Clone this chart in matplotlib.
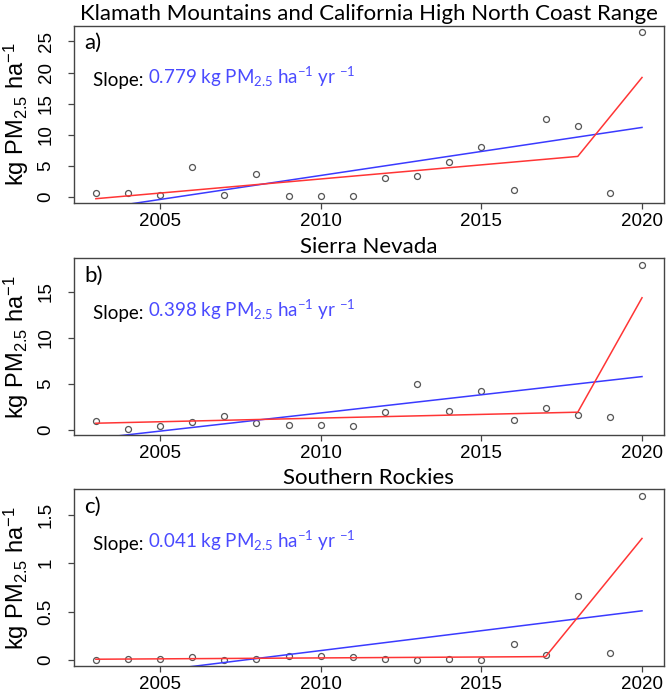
import numpy as np
import matplotlib
matplotlib.use("Agg")
import matplotlib.pyplot as plt

plt.rcParams["mathtext.fontset"] = "custom"
plt.rcParams["mathtext.rm"] = "Lato"
plt.rcParams["mathtext.it"] = "Lato:italic"
plt.rcParams["mathtext.sf"] = "Liberation Sans"

years = np.arange(2003, 2021)

# observed annual values (kg PM2.5 / ha)
klamath = [0.54, 0.60, 0.27, 4.77, 0.20, 3.70, 0.16, 0.16, 0.05, 3.00,
           3.27, 5.63, 8.05, 1.02, 12.55, 11.37, 0.64, 26.5]
sierra = [1.02, 0.11, 0.47, 0.91, 1.49, 0.73, 0.51, 0.54, 0.44, 1.93,
          5.01, 2.03, 4.21, 1.05, 2.43, 1.67, 1.42, 17.98]
rockies = [0.0, 0.007, 0.007, 0.03, 0.0, 0.007, 0.045, 0.038, 0.034, 0.01,
           0.0, 0.014, 0.0, 0.166, 0.055, 0.659, 0.076, 1.697]

# segmented fit knots (red)
seg_x = [[2003, 2018, 2020], [2003, 2018, 2020], [2003, 2017, 2020]]
seg_y = [[-0.32, 6.49, 19.2], [0.73, 1.93, 14.38], [0.007, 0.034, 1.255]]

titles = ["Klamath Mountains and California High North Coast Range",
          "Sierra Nevada", "Southern Rockies"]
panel_tags = ["a)", "b)", "c)"]
slopes = ["0.779", "0.398", "0.041"]
yticks = [[0, 5, 10, 15, 20, 25], [0, 5, 10, 15], [0, 0.5, 1, 1.5]]
ytick_labels = [["0", "5", "10", "15", "20", "25"], ["0", "5", "10", "15"],
                ["0", "0.5", "1", "1.5"]]
xticks = [2005, 2010, 2015, 2020]

fig = plt.figure(figsize=(6.68, 6.97), dpi=100)
left, width = 0.1108, 0.883
bottoms = [0.7088, 0.3752, 0.0438]
height = 0.2545

edge = "#444444"
for i, vals in enumerate([klamath, sierra, rockies]):
    ax = fig.add_axes([left, bottoms[i], width, height])
    vals = np.array(vals)

    # R style axis ranges: data range + 4%
    xr = years.max() - years.min()
    ax.set_xlim(years.min() - 0.04 * xr, years.max() + 0.04 * xr)
    yr = vals.max() - vals.min()
    ax.set_ylim(vals.min() - 0.04 * yr, vals.max() + 0.04 * yr)

    ax.plot(years, vals, "o", mfc="none", mec="#555555", ms=4.3, mew=0.9)

    b, a = np.polyfit(years, vals, 1)
    ax.plot(years, a + b * years, color="#3a3aff", lw=1.1)
    ax.plot(seg_x[i], seg_y[i], color="#ff3535", lw=1.1)

    ax.set_xticks(xticks)
    ax.set_xticklabels([str(x) for x in xticks], fontsize=13.5,
                       family="Liberation Sans")
    ax.set_yticks(yticks[i])
    ax.set_yticklabels(ytick_labels[i], fontsize=13.5, rotation=90,
                       va="center", family="Liberation Sans")
    ax.tick_params(direction="out", length=4, width=0.9, color=edge)
    ax.tick_params(axis="x", pad=3)
    ax.tick_params(axis="y", pad=10)
    for s in ax.spines.values():
        s.set_color(edge)
        s.set_linewidth(1.0)

    ax.set_ylabel(r"kg PM$_{\mathsf{2.5}}$ ha$^{\mathsf{-1}}$", fontsize=17,
                  family="Liberation Sans", labelpad=5)
    ax.set_title(titles[i], fontsize=16, family="Lato", pad=4)

    ax.text(0.017, 0.90, panel_tags[i], transform=ax.transAxes,
            fontsize=16, family="Lato", va="center")
    t1 = ax.text(0.032, 0.69, "Slope: ", transform=ax.transAxes,
                 fontsize=13.5, family="Lato", va="center")
    ax.annotate(slopes[i] + r" kg PM$_{2.5}$ ha$^{-1}$ yr $^{-1}$",
                xy=(1, 0), xycoords=t1, va="bottom", ha="left",
                fontsize=13.5, family="Lato", color="#4a4aff")

fig.savefig("out.png", dpi=100)
